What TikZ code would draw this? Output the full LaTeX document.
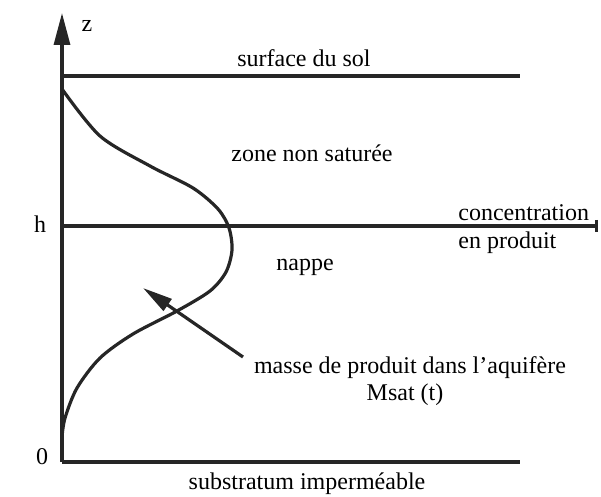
\documentclass[tikz,border=0pt]{standalone}
\usepackage{fontspec}
\setmainfont{Liberation Serif}
\usetikzlibrary{arrows,arrows.meta}
\tikzset{
  % thick strokes of the sketch
  trait/.style={line width=1.6pt,color=black!85},
  % text labels
  etiq/.style={inner sep=0pt,font=\fontsize{12}{14}\selectfont},
}

\begin{document}
\begin{tikzpicture}[x=.5pt,y=-.5pt]
\useasboundingbox (0,0) rectangle (601,497);
% axes
\coordinate (O) at (62,462);
\coordinate (ztop) at (62,13);
\coordinate (zs) at (62,76);
\coordinate (zh) at (62,226);
\coordinate (ends) at (520,76);
\coordinate (endh) at (598,226);
\coordinate (endo) at (520,462);
\draw[trait,-{Triangle[length=16pt,width=8pt]}] (O) -- (ztop);
\draw[trait] (zs) -- (ends);
\draw[trait,-{Bar[width=6pt]}] (zh) -- (endh);
\draw[trait] (O) -- (endo);

% profile of concentration
\draw[trait,smooth] plot coordinates {(62,89) (100,136) (150,166) (193,188) (218,209) (229,228) (232,250) (226,272) (210,291) (177,311) (133,334) (100,358) (77,388) (65,418) (62,437)};

% arrow towards the mass
\coordinate (fdep) at (243,357);
\coordinate (farr) at (143,288);
\draw[trait,-{Triangle[length=15pt,width=7pt]}] (fdep) -- (farr);

% labels
\node[etiq] (zlab) at (87,26) {z};
\node[etiq] (hlab) at (40,224) {h};
\node[etiq] (olab) at (42,457) {0};
\node[etiq] (sol) at (304,58) {surface du sol};
\node[etiq] (zns) at (312,153) {zone non saturée};
\node[etiq,anchor=west] (conc) at (458,213) {concentration};
\node[etiq,anchor=west] (prod) at (458,243) {en produit};
\node[etiq] (nappe) at (305,267) {nappe};
\node[etiq] (masse) at (410,368) {masse de produit dans l'aquifère};
\node[etiq] (msat) at (405,395) {Msat (t)};
\node[etiq] (subs) at (307,484) {substratum imperméable};

%\draw[trait] (62,437) -- (62,462);
\end{tikzpicture}
\end{document}
